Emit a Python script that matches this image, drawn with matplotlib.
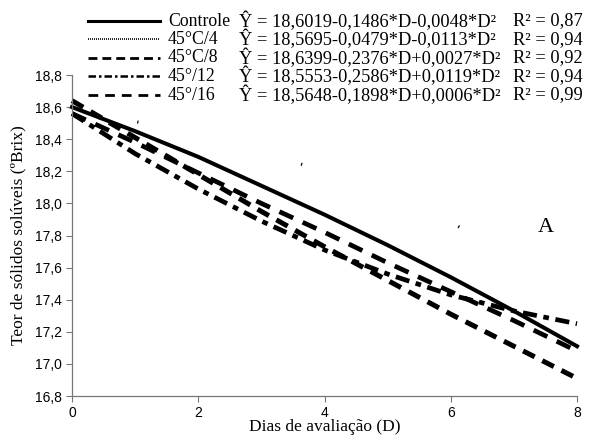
import matplotlib
matplotlib.use("Agg")
import matplotlib.pyplot as plt
from matplotlib.lines import Line2D

# dados (teor de solidos soluveis, ºBrix)
dias = [0, 1, 2, 3, 4, 5, 6, 7, 8]
controle = [18.60, 18.45, 18.29, 18.11, 17.93, 17.74, 17.54, 17.33, 17.11]
t45c4 = [18.57, 18.51, 18.43, 18.32, 18.20, 18.05, 17.88, 17.68, 17.46]
t45c8 = [18.64, 18.41, 18.18, 17.95, 17.73, 17.52, 17.31, 17.11, 16.91]
t45_12 = [18.56, 18.31, 18.09, 17.89, 17.71, 17.56, 17.43, 17.33, 17.25]
t45_16 = [18.56, 18.38, 18.19, 18.00, 17.82, 17.63, 17.45, 17.27, 17.08]

nomes = ["Controle", "45°C/4", "45°C/8", "45°/12", "45°/16"]
equacoes = ["Ŷ = 18,6019-0,1486*D-0,0048*D²",
            "Ŷ = 18,5695-0,0479*D-0,0113*D²",
            "Ŷ = 18,6399-0,2376*D+0,0027*D²",
            "Ŷ = 18,5553-0,2586*D+0,0119*D²",
            "Ŷ = 18,5648-0,1898*D+0,0006*D²"]
r2 = ["R² = 0,87", "R² = 0,94", "R² = 0,92", "R² = 0,94", "R² = 0,99"]
yticks = [16.8, 17.0, 17.2, 17.4, 17.6, 17.8, 18.0, 18.2, 18.4, 18.6, 18.8]

W, H = 596, 436
fig = plt.figure(figsize=(W / 100, H / 100), dpi=100)
ax = fig.add_axes([72 / W, 1 - 396 / H, (577 - 72) / W, (396 - 75) / H])

series = [controle, t45c4, t45c8, t45_12, t45_16]
estilos = ["-", (33.8, (0.4, 55)), (0, (2.6, 1.7)), (0, (3.0, 1.4, 1.2, 1.4)), (0, (3.2, 2.2))]
larg = [2.9, 2.2, 3.6, 3.4, 3.4]
for y, ls, lw in zip(series, estilos, larg):
    ax.plot(dias, y, color="black", linestyle=ls, linewidth=lw, clip_on=False)

ax.set_xlim(0, 8)
ax.set_ylim(16.8, 18.8)
ax.set_xticks([0, 2, 4, 6, 8])
ax.set_yticks(yticks)
ax.set_yticklabels([f"{v:.1f}".replace(".", ",") for v in yticks])
for s in ["top", "right"]:
    ax.spines[s].set_visible(False)
for s in ["left", "bottom"]:
    ax.spines[s].set_color("#777777")
    ax.spines[s].set_linewidth(0.9)
ax.tick_params(colors="#777777", length=4, labelsize=10, labelcolor="black")
for lab in ax.get_xticklabels() + ax.get_yticklabels():
    lab.set_family("Liberation Sans")

ax.set_xlabel("Dias de avaliação (D)", family="Liberation Serif", fontsize=12.5, labelpad=-1)
ax.set_ylabel("Teor de sólidos solúveis (ºBrix)", family="Liberation Serif", fontsize=12.5, labelpad=6)
ax.text(7.38, 17.85, "A", family="Liberation Serif", fontsize=16, ha="left", va="center")

# legenda manual no topo
leg_lw = [2.2, 1.2, 2.0, 1.8, 2.0]
leg_ls = ["-", (0, (0.6, 0.6)), (0, (3.2, 1.8)), (0, (3.0, 1.2, 1.0, 1.2)), (0, (3.5, 2.5))]
linhas_y = [21, 39.5, 58, 76.5, 95]
for i in range(5):
    yf = 1 - linhas_y[i] / H
    fig.add_artist(Line2D([88 / W, 160 / W], [yf, yf], color="black",
                          linewidth=leg_lw[i], linestyle=leg_ls[i]))
    fig.text(168 / W, yf, nomes[i], family="Liberation Serif", fontsize=12.8, va="center")
    fig.text(239 / W, yf, equacoes[i], family="Liberation Serif", fontsize=13.2, va="center")
    fig.text(513 / W, yf, r2[i], family="Liberation Serif", fontsize=13.2, va="center")

fig.savefig("out.png", dpi=100)
